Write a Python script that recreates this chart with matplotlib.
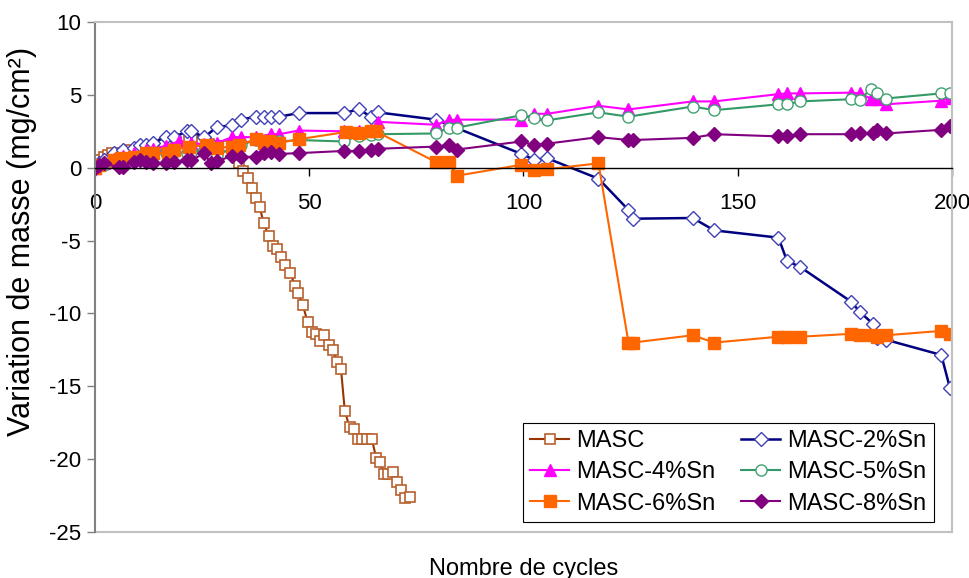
#!/usr/bin/env python3
"""Mass change vs number of cycles for MASC alloys with Sn additions."""

import matplotlib

matplotlib.use("Agg")
import matplotlib.pyplot as plt  # noqa: E402

plt.rcParams["font.family"] = ["Liberation Sans", "DejaVu Sans"]
plt.rcParams["axes.unicode_minus"] = False

# --- data --------------------------------------------------------------------
masc_x = [0, 1, 2, 3, 4, 5.5, 7, 8.5, 10, 11.5, 13, 14.5, 16, 17.5, 19, 20.5, 22, 23.5,
          25, 26.5, 28, 29.5, 31, 32.5,
          33.7, 34.5, 35.6, 36.6, 37.6, 38.4, 39.4, 40.5, 41.5, 42.5, 43.4, 44.4, 45.6,
          46.6, 47.4, 48.5, 49.6, 50.6, 51.5, 52.5, 53.4, 54.6, 55.5, 56.5, 57.4, 58.3,
          59.4, 60.4, 61.3, 62.4, 63.5, 64.6, 65.6, 66.5, 67.4, 68.4, 69.5, 70.5, 71.4,
          72.4, 73.5]
masc_y = [0, 0.5, 0.75, 0.9, 1.0, 1.0, 1.1, 1.2, 1.3, 1.3, 1.4, 1.5, 1.6, 1.75, 1.9, 2.0,
          2.0, 1.9, 1.8, 1.6, 1.5, 1.5, 1.5, 1.6,
          0.35, -0.2, -0.7, -1.4, -2.1, -2.7, -3.8, -4.7, -5.4, -5.6, -6.1, -6.7, -7.2,
          -8.1, -8.6, -9.4, -10.6, -11.3, -11.4, -11.9, -11.5, -12.2, -12.5, -13.3,
          -13.8, -16.7, -17.8, -17.9, -18.6, -18.6, -18.6, -18.6, -19.9, -20.2, -21.0,
          -21.0, -20.9, -21.6, -22.1, -22.7, -22.6]

sn2_x = [0, 1, 2, 4.5, 6.5, 9, 10.5, 12, 13.5, 16.5, 18.5, 21.5, 22.5, 25.5, 28.5, 32,
         34, 37.5, 39.5, 41, 43, 47.5, 58, 61.5, 64.5, 66, 79.5, 99.5, 102.5, 105.5,
         117.5, 124.5, 125.5, 139.5, 144.5, 159.5, 161.5, 164.5, 176.5, 178.5, 181.5,
         182.5, 184.5, 197.5, 199.5]
sn2_y = [0, 0.3, 0.5, 1.0, 1.2, 1.35, 1.55, 1.55, 1.7, 2.1, 2.1, 2.5, 2.5, 2.1, 2.8, 2.9,
         3.3, 3.5, 3.5, 3.5, 3.5, 3.75, 3.75, 4.0, 3.5, 3.8, 3.3, 0.95, 0.55, 0.65,
         -0.75, -2.9, -3.5, -3.45, -4.3, -4.8, -6.4, -6.8, -9.2, -9.9, -10.7,
         -11.7, -11.8, -12.85, -15.1]

sn4_x = [0, 2, 4.5, 6.5, 9, 12, 13.5, 16.5, 19.5, 22.5, 25.5, 28.5, 32, 34, 37.5, 41, 43,
         47.5, 58, 61.5, 64.5, 66, 79.5, 82.5, 84.5, 99.5, 102.5, 105.5, 117.5, 124.5,
         139.5, 144.5, 159.5, 161.5, 164.5, 176.5, 178.5, 181, 182.5, 184.5, 197.5, 199.5]
sn4_y = [0, 0.3, 0.6, 0.8, 1.0, 1.2, 1.3, 1.5, 1.8, 1.7, 1.6, 1.7, 2.1, 2.1, 2.1, 2.3, 2.3,
         2.55, 2.5, 2.5, 2.6, 3.15, 2.95, 3.25, 3.3, 3.3, 3.7, 3.7, 4.25, 4.0,
         4.55, 4.55, 5.05, 5.1, 5.1, 5.15, 5.1, 4.75, 4.7, 4.35, 4.6, 4.8]

sn5_x = [0, 2, 4.5, 6.5, 9, 12, 13.5, 16.5, 18.5, 21.5, 22.5, 25.5, 28.5, 32, 34, 37.5, 41,
         43, 47.5, 58, 61.5, 64.5, 66, 79.5, 82.5, 84.5, 99.5, 102.5, 105.5, 117.5, 124.5,
         139.5, 144.5, 159.5, 161.5, 164.5, 176.5, 178.5, 181, 182.5, 184.5, 197.5, 199.5]
sn5_y = [0, 0.2, 0.4, 0.6, 0.7, 0.8, 0.9, 1.0, 1.1, 1.0, 1.1, 1.2, 0.9, 1.3, 1.55, 1.9, 1.8,
         1.8, 1.9, 1.8, 2.2, 2.25, 2.3, 2.35, 2.75, 2.75, 3.6, 3.4, 3.25, 3.8, 3.5,
         4.2, 3.95, 4.35, 4.35, 4.55, 4.7, 4.65, 5.4, 5.1, 4.75, 5.1, 5.15]

sn6_x = [0, 1, 4.5, 6, 9, 12, 13.5, 17, 18.5, 22, 26, 28.5, 32, 33.5, 37.5, 39.5, 40.5, 43,
         47.5, 58.5, 61.5, 64.5, 65.5, 79.5, 82.5, 84.5, 99.5, 102.5, 105.5, 117.5, 124.5,
         125.5, 139.5, 144.5, 159.5, 161.5, 164.5, 176.5, 178.5, 181.5, 182.5, 184.5,
         197.5, 199.5]
sn6_y = [0, 0.2, 0.5, 0.65, 0.75, 1.0, 1.0, 1.0, 1.2, 1.45, 1.55, 1.35, 1.45, 1.55, 1.95,
         1.7, 1.8, 1.7, 1.95, 2.45, 2.35, 2.55, 2.5, 0.4, 0.4, -0.55, 0.2, -0.15, -0.1,
         0.3, -12.0, -12.0, -11.5, -12.0, -11.6, -11.6, -11.6, -11.4, -11.5, -11.5,
         -11.6, -11.5, -11.2, -11.4]

sn8_x = [0, 1, 2, 5.5, 6.5, 9, 10.5, 12, 13.5, 16.5, 18.5, 21.5, 22.5, 25.5, 27, 28.5, 32,
         34, 37.5, 39.5, 41, 43, 47.5, 58, 61.5, 64.5, 66, 79.5, 82.5, 84.5, 99.5, 102.5,
         105.5, 117.5, 124.5, 125.5, 139.5, 144.5, 159.5, 161.5, 164.5, 176.5, 178.5,
         181.5, 182.5, 184.5, 197.5, 199.5]
sn8_y = [0, 0.2, 0.3, 0.05, 0.05, 0.4, 0.5, 0.4, 0.3, 0.3, 0.4, 0.55, 0.5, 1.0, 0.3, 0.45,
         0.8, 0.75, 0.75, 1.0, 1.05, 0.95, 1.0, 1.15, 1.15, 1.2, 1.3, 1.45, 1.55, 1.25,
         1.8, 1.55, 1.65, 2.1, 1.9, 1.9, 2.05, 2.3, 2.15, 2.15, 2.3, 2.3, 2.35, 2.35,
         2.6, 2.35, 2.6, 2.85]

x_ticks = [0, 50, 100, 150, 200]
y_ticks = [10, 5, 0, -5, -10, -15, -20, -25]

# --- figure --------------------------------------------------------------------
fig = plt.figure(figsize=(9.7, 5.78), dpi=100)
ax = fig.add_axes([95 / 970, 1 - 532 / 578, 857 / 970, 510 / 578])

series = [
    ("MASC", masc_x, masc_y, dict(color="#993300", marker="s", ms=7.5, mfc="white",
                                  mec="#B8602E", mew=1.2, lw=1.5)),
    ("MASC-2%Sn", sn2_x, sn2_y, dict(color="#000080", marker="D", ms=7, mfc="white",
                                     mec="#4040B8", mew=1.0, lw=1.8)),
    ("MASC-4%Sn", sn4_x, sn4_y, dict(color="#FF00FF", marker="^", ms=8.5, mfc="#FF00FF",
                                     mec="#FF00FF", lw=1.5)),
    ("MASC-5%Sn", sn5_x, sn5_y, dict(color="#339966", marker="o", ms=8, mfc="white",
                                     mec="#40A070", mew=1.0, lw=1.5)),
    ("MASC-6%Sn", sn6_x, sn6_y, dict(color="#FF6600", marker="s", ms=8, mfc="#FF6600",
                                     mec="#FF6600", lw=1.5)),
    ("MASC-8%Sn", sn8_x, sn8_y, dict(color="#800080", marker="D", ms=7, mfc="#800080",
                                     mec="#800080", lw=1.5)),
]
lines = {}
for label, xs, ys, style in series:
    lines[label] = ax.plot(xs, ys, label=label, **style)[0]

ax.set_xlim(0, 200)
ax.set_ylim(-25, 10)
ax.set_xticks(x_ticks)
ax.set_yticks(y_ticks)

# x axis runs along y = 0; the box around the plot is light grey
ax.spines["bottom"].set_position(("data", 0))
ax.spines["bottom"].set_color("black")
ax.spines["bottom"].set_linewidth(1.0)
ax.spines["left"].set_color("#808080")
ax.spines["left"].set_linewidth(1.5)
for side in ("top", "right"):
    ax.spines[side].set_color("#C0C0C0")
    ax.spines[side].set_linewidth(1.5)
ax.plot([0, 1], [0, 0], transform=ax.transAxes, color="#C0C0C0", lw=1.5, clip_on=False)

ax.tick_params(axis="x", direction="out", length=6, width=1, color="black",
               labelsize=16, pad=12)
ax.tick_params(axis="y", direction="out", length=6, width=1, color="#808080",
               labelsize=16, pad=4)

ax.set_xlabel("Nombre de cycles", fontsize=17)
ax.xaxis.set_label_coords(0.5, -0.05)
ax.set_ylabel("Variation de masse (mg/cm²)", fontsize=22)
ax.yaxis.set_label_coords(-0.068, 0.57)

# legend filled row by row: MASC / 2%, 4% / 5%, 6% / 8%
order = ["MASC", "MASC-4%Sn", "MASC-6%Sn", "MASC-2%Sn", "MASC-5%Sn", "MASC-8%Sn"]
leg = ax.legend([lines[k] for k in order], order, ncol=2, loc="upper left",
                bbox_to_anchor=(523 / 970, 1 - 423 / 578),
                bbox_transform=fig.transFigure, fontsize=17, frameon=True,
                fancybox=False, framealpha=1, edgecolor="black", handlelength=1.65,
                handletextpad=0.3, columnspacing=1.1, labelspacing=0.39, borderpad=0.3,
                borderaxespad=0)
leg.get_frame().set_linewidth(0.8)

fig.savefig("out.png", dpi=100)
